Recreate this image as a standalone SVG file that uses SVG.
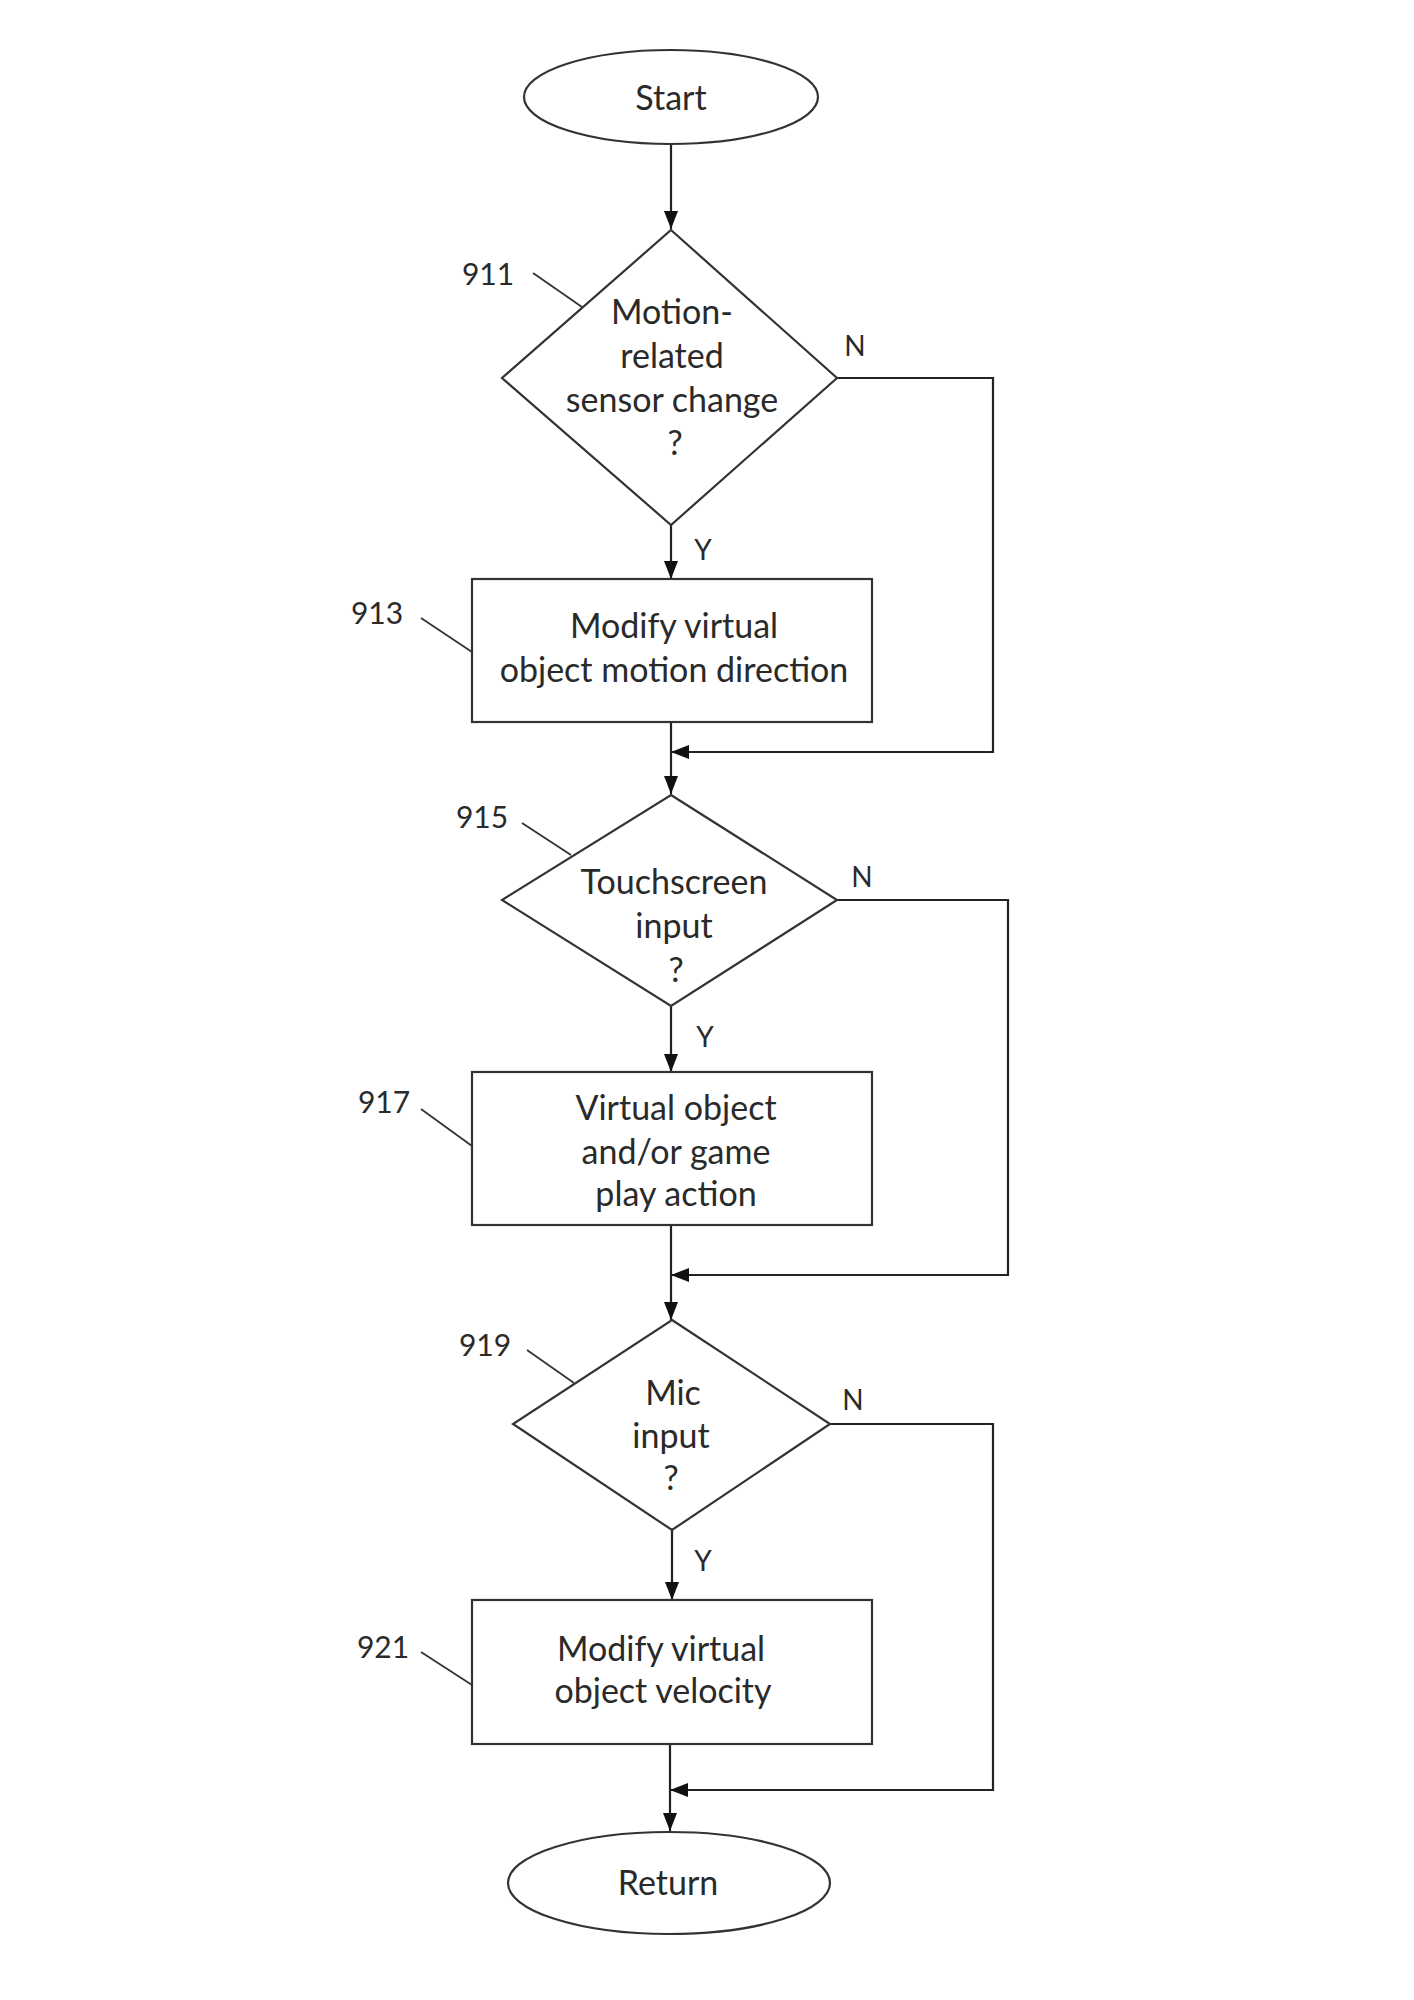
<svg xmlns="http://www.w3.org/2000/svg" width="1414" height="2000" viewBox="0 0 1414 2000">
<style>
.shape{fill:#fff;stroke:#333;stroke-width:2.2}
.conn{fill:none;stroke:#222;stroke-width:2.2}
.lead{fill:none;stroke:#333;stroke-width:1.8}
.t{font-family:Lato,"Liberation Sans",sans-serif;font-size:34px;fill:#2a2a2a;text-anchor:middle}
.lbl{font-family:Lato,"Liberation Sans",sans-serif;font-size:30px;fill:#2a2a2a;text-anchor:middle}
.yn{font-family:Lato,"Liberation Sans",sans-serif;font-size:28px;fill:#2a2a2a;text-anchor:middle}
</style>
<defs>
<marker id="arr" markerUnits="userSpaceOnUse" markerWidth="18" markerHeight="14" refX="18" refY="7" orient="auto">
<path d="M0,0 L18,7 L0,14 z" fill="#111"/>
</marker>
</defs>
<rect width="1414" height="2000" fill="#fff"/>
<g id="connectors">
<path class="conn" d="M671,144 V229" marker-end="url(#arr)"/>
<path class="conn" d="M671,525 V579" marker-end="url(#arr)"/>
<path class="conn" d="M837,378 H993 V752 H671" marker-end="url(#arr)"/>
<path class="conn" d="M671,722 V794" marker-end="url(#arr)"/>
<path class="conn" d="M671,1006 V1072" marker-end="url(#arr)"/>
<path class="conn" d="M837,900 H1008 V1275 H671" marker-end="url(#arr)"/>
<path class="conn" d="M671,1225 V1320" marker-end="url(#arr)"/>
<path class="conn" d="M672,1530 V1600" marker-end="url(#arr)"/>
<path class="conn" d="M830,1424 H993 V1790 H670" marker-end="url(#arr)"/>
<path class="conn" d="M670,1744 V1831" marker-end="url(#arr)"/>
<text class="yn" x="855" y="356">N</text>
<text class="yn" x="703" y="560">Y</text>
<text class="yn" x="862" y="887">N</text>
<text class="yn" x="705" y="1047">Y</text>
<text class="yn" x="853" y="1410">N</text>
<text class="yn" x="703" y="1571">Y</text>
</g>
<g id="start">
<ellipse class="shape" cx="671" cy="97" rx="147" ry="47"/>
<text class="t" x="671" y="110">Start</text>
</g>
<g id="n911">
<polygon class="shape" points="671,230 837,378 671,525 502,378"/>
<text class="t" x="672" y="324">Motion-</text>
<text class="t" x="672" y="368">related</text>
<text class="t" x="672" y="412">sensor change</text>
<text class="t" x="675" y="455">?</text>
<text class="lbl" x="488" y="285">911</text>
<line class="lead" x1="533" y1="273" x2="582" y2="307"/>
</g>
<g id="n913">
<rect class="shape" x="472" y="579" width="400" height="143"/>
<text class="t" x="674" y="638">Modify virtual</text>
<text class="t" x="674" y="682">object motion direction</text>
<text class="lbl" x="377" y="624">913</text>
<line class="lead" x1="421" y1="618" x2="472" y2="652"/>
</g>
<g id="n915">
<polygon class="shape" points="671,795 837,900 671,1006 502,900"/>
<text class="t" x="674" y="894">Touchscreen</text>
<text class="t" x="674" y="938">input</text>
<text class="t" x="676" y="982">?</text>
<text class="lbl" x="482" y="828">915</text>
<line class="lead" x1="522" y1="823" x2="571" y2="855"/>
</g>
<g id="n917">
<rect class="shape" x="472" y="1072" width="400" height="153"/>
<text class="t" x="676" y="1120">Virtual object</text>
<text class="t" x="676" y="1164">and/or game</text>
<text class="t" x="676" y="1206">play action</text>
<text class="lbl" x="384" y="1113">917</text>
<line class="lead" x1="421" y1="1109" x2="472" y2="1146"/>
</g>
<g id="n919">
<polygon class="shape" points="672,1320 830,1424 672,1530 513,1424"/>
<text class="t" x="673" y="1405">Mic</text>
<text class="t" x="671" y="1448">input</text>
<text class="t" x="671" y="1490">?</text>
<text class="lbl" x="485" y="1356">919</text>
<line class="lead" x1="527" y1="1350" x2="574" y2="1383"/>
</g>
<g id="n921">
<rect class="shape" x="472" y="1600" width="400" height="144"/>
<text class="t" x="661" y="1661">Modify virtual</text>
<text class="t" x="663" y="1703">object velocity</text>
<text class="lbl" x="383" y="1658">921</text>
<line class="lead" x1="421" y1="1652" x2="472" y2="1685"/>
</g>
<g id="return">
<ellipse class="shape" cx="669" cy="1883" rx="161" ry="51"/>
<text class="t" x="668" y="1895">Return</text>
</g>
</svg>
